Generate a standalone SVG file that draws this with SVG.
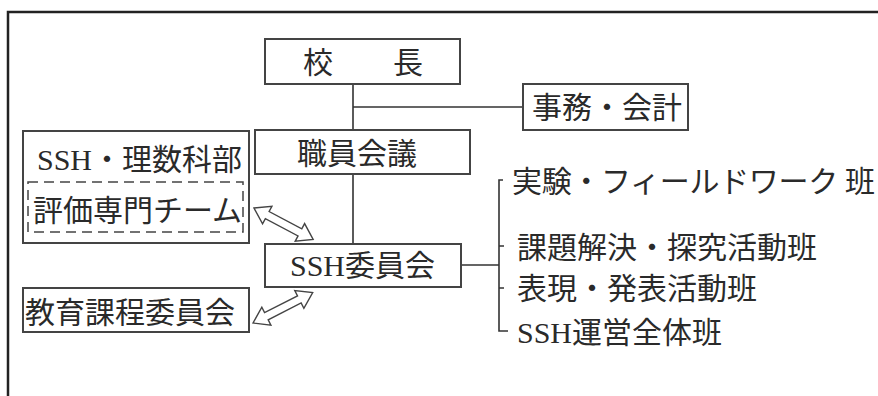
<svg xmlns="http://www.w3.org/2000/svg" width="878" height="396" viewBox="0 0 878 396">
<style>
.box{fill:#fff;stroke:#444;stroke-width:2}
.ln{fill:none;stroke:#333;stroke-width:1.6}
.dash{fill:none;stroke:#444;stroke-width:1.5;stroke-dasharray:10 6}
.t{font-family:"Liberation Serif","Noto Sans CJK JP",serif;font-size:30px;fill:#2a2a2a;dominant-baseline:central}
.arr{fill:#fff;stroke:#444;stroke-width:1.4;stroke-linejoin:miter}
</style>
<defs>
<path id="dbl" d="M0,0 L15,-10 L15,-4 L52,-4 L52,-10 L67,0 L52,10 L52,4 L15,4 L15,10 Z"/>
</defs>
<rect width="878" height="396" fill="#fff"/>
<path d="M8,396 L8,12 L878,12" fill="none" stroke="#222" stroke-width="2.5"/>
<g id="connectors">
<path class="ln" d="M353,84 V130 M353,107 H523 M353,174 V244 M461,265 H499 M503,180 H499 V331 H508 M499,246 H504 M499,288 H504"/>
<use href="#dbl" class="arr" transform="translate(254,208) rotate(28)"/>
<use href="#dbl" class="arr" transform="translate(253,323) rotate(-27)"/>
</g>
<g id="kocho">
<rect class="box" x="265" y="39" width="195" height="45"/>
<text class="t" x="303" y="62">校　　長</text>
</g>
<g id="jimu">
<rect class="box" x="523" y="84" width="165" height="46"/>
<text class="t" x="532" y="107">事務・会計</text>
</g>
<g id="shokuin">
<rect class="box" x="255" y="130" width="215" height="44"/>
<text class="t" x="297" y="153">職員会議</text>
</g>
<g id="ssh-risu">
<rect class="box" x="23" y="131" width="226" height="112"/>
<text class="t" x="37" y="159">SSH・理数科部</text>
<rect class="dash" x="28" y="182" width="215" height="50"/>
<text class="t" x="33" y="210">評価専門チーム</text>
</g>
<g id="ssh-iinkai">
<rect class="box" x="265" y="244" width="196" height="43"/>
<text class="t" x="290" y="265">SSH委員会</text>
</g>
<g id="kyoiku">
<rect class="box" x="23" y="288" width="226" height="44"/>
<text class="t" x="25" y="312">教育課程委員会</text>
</g>
<g id="han1"><text class="t" x="512" y="181" textLength="363" lengthAdjust="spacing">実験・フィールドワーク 班</text></g>
<g id="han2"><text class="t" x="517" y="247">課題解決・探究活動班</text></g>
<g id="han3"><text class="t" x="517" y="288">表現・発表活動班</text></g>
<g id="han4"><text class="t" x="517" y="332">SSH運営全体班</text></g>
</svg>
